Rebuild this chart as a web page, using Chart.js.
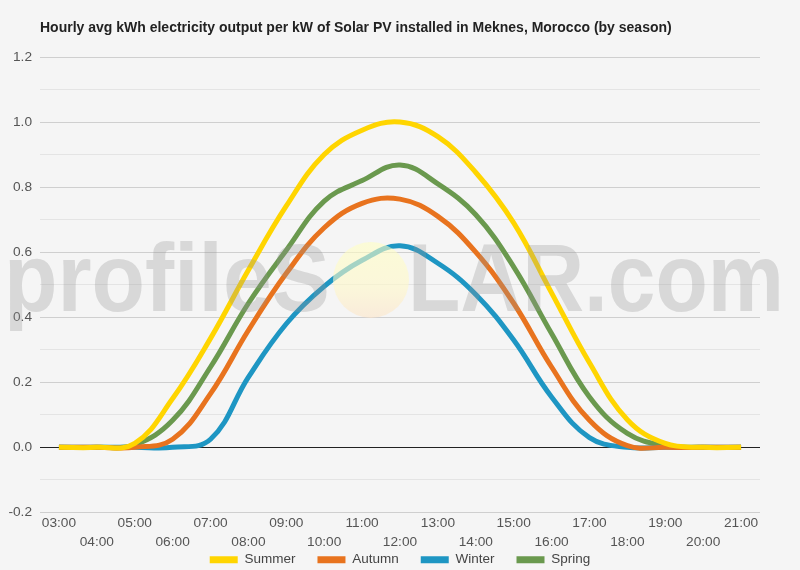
<!DOCTYPE html>
<html><head><meta charset="utf-8">
<script src="https://cdn.jsdelivr.net/npm/chart.js@4/dist/chart.umd.min.js"></script>
<style>html,body{margin:0;padding:0;background:#f5f5f5;}#wrap{width:800px;height:570px;}</style>
</head><body><div id="wrap"><canvas id="c" width="800" height="570"></canvas></div>
<script>
const titleText = 'Hourly avg kWh electricity output per kW of Solar PV installed in Meknes, Morocco (by season)';
const hours = ['03:00','04:00','05:00','06:00','07:00','08:00','09:00','10:00','11:00','12:00','13:00','14:00','15:00','16:00','17:00','18:00','19:00','20:00','21:00'];
const summer = [0, 0, 0.012, 0.15, 0.335, 0.545, 0.742, 0.9, 0.975, 1.0, 0.955, 0.845, 0.69, 0.475, 0.26, 0.085, 0.012, 0, 0];
const autumn = [0, 0, 0, 0.025, 0.165, 0.36, 0.535, 0.675, 0.75, 0.763, 0.71, 0.6, 0.443, 0.247, 0.083, 0.005, 0, 0, 0];
const winter = [0, 0, 0, 0, 0.025, 0.216, 0.38, 0.495, 0.575, 0.62, 0.566, 0.47, 0.33, 0.155, 0.03, 0, 0, 0, 0];
const spring = [0, 0, 0.008, 0.083, 0.247, 0.443, 0.606, 0.757, 0.82, 0.868, 0.81, 0.715, 0.555, 0.35, 0.155, 0.043, 0.005, 0, 0];
const seriesNames = ['Summer', 'Autumn', 'Winter', 'Spring'];
const seriesColors = ['#FFD500', '#E8731E', '#1E96C3', '#6A994E'];
const yTicks = [-0.2, 0, 0.2, 0.4, 0.6, 0.8, 1.0, 1.2];
const FONT = '"Liberation Sans", Arial, sans-serif';

const watermark = {
  id: 'watermark',
  afterDatasetsDraw(chart) {
    const ctx = chart.ctx;
    ctx.save();
    ctx.font = 'bold 96px ' + FONT;
    ctx.textBaseline = 'alphabetic';
    ctx.textAlign = 'left';
    ctx.fillStyle = 'rgba(150,150,150,0.3)';
    ctx.fillText('profileS', 4, 311, 326);
    ctx.fillText('LAR.com', 408, 311, 376);
    const g = ctx.createLinearGradient(0, 242, 0, 318);
    g.addColorStop(0, 'rgba(255,255,195,0.6)');
    g.addColorStop(0.6, 'rgba(255,248,200,0.6)');
    g.addColorStop(1, 'rgba(252,228,200,0.6)');
    ctx.fillStyle = g;
    ctx.beginPath();
    ctx.arc(371, 280, 38, 0, Math.PI * 2);
    ctx.fill();
    ctx.restore();
  }
};

const legendShift = {
  id: 'legendShift',
  afterLayout(chart) {
    const l = chart.legend;
    if (l) { l.top -= 21.5; l.bottom -= 21.5; }
  }
};

const dataSeries = [summer, autumn, winter, spring];
new Chart(document.getElementById('c'), {
  type: 'line',
  data: {
    labels: hours,
    datasets: dataSeries.map((d, i) => ({
      label: seriesNames[i],
      data: d,
      borderColor: seriesColors[i],
      backgroundColor: seriesColors[i],
      borderWidth: 5,
      pointRadius: 0,
      tension: 0.4,
      fill: false
    }))
  },
  options: {
    responsive: false,
    animation: false,
    layout: { padding: { left: 7, right: 7, top: 0, bottom: -28 } },
    plugins: {
      title: {
        display: true, text: titleText, align: 'start', fullSize: false,
        color: '#222', font: { family: FONT, size: 14, weight: 'bold', lineHeight: 1.2 },
        padding: { top: 19.6, bottom: 20.6 }
      },
      legend: {
        position: 'bottom',
        labels: {
          boxWidth: 28, boxHeight: 7, padding: 22, color: '#444',
          font: { family: FONT, size: 13.5 },
          generateLabels: (chart) => Chart.defaults.plugins.legend.labels.generateLabels(chart).map(l => Object.assign(l, { lineWidth: 0, fillStyle: l.strokeStyle }))
        }
      },
      tooltip: { enabled: false }
    },
    scales: {
      x: {
        offset: true,
        grid: { display: false, drawTicks: false },
        border: { display: false },
        ticks: {
          autoSkip: false, maxRotation: 0, minRotation: 0, padding: 1, color: '#555',
          font: { family: FONT, size: 13.7, lineHeight: 1.39 },
          callback: (v, i) => (i % 2 === 1 ? ['', hours[i]] : hours[i])
        }
      },
      y: {
        min: yTicks[0], max: yTicks[yTicks.length - 1],
        border: { display: false },
        grid: {
          drawTicks: false,
          color: (c) => { const v = Math.round(c.tick.value * 10); if (v === 0) return '#222'; return v % 2 === 0 ? '#cfcfcf' : '#e4e4e4'; }
        },
        ticks: {
          stepSize: 0.1, padding: 8, color: '#555',
          font: { family: FONT, size: 13.7 },
          callback: (v) => { const r = Math.round(v * 10); return r % 2 === 0 ? (r / 10).toFixed(1) : ''; }
        },
        afterFit: (s) => { s.width = 33; }
      },
      y2: {
        position: 'right', display: true,
        grid: { display: false, drawTicks: false }, border: { display: false },
        ticks: { display: false },
        afterFit: (s) => { s.width = 33; }
      }
    }
  },
  plugins: [watermark, legendShift]
});
</script></body></html>
